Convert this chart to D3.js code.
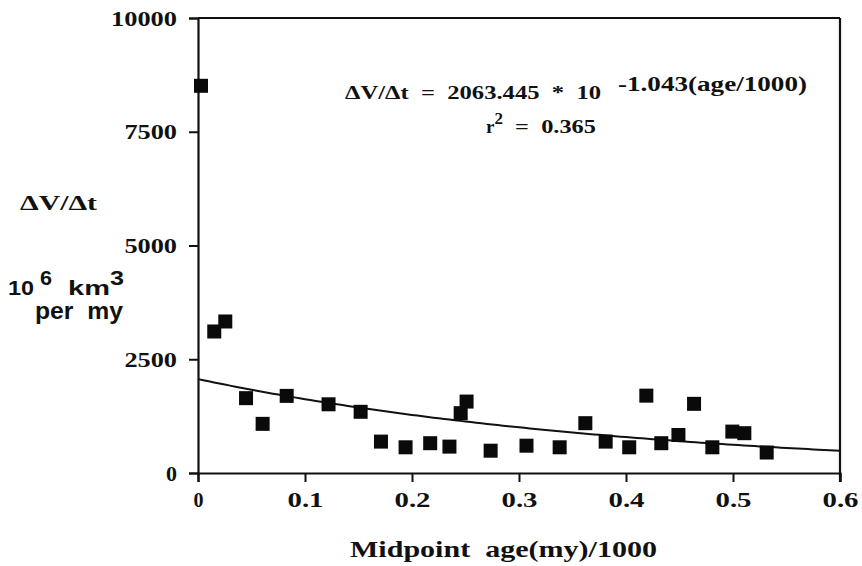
<!DOCTYPE html>
<html>
<head>
<meta charset="utf-8">
<script src="https://cdn.jsdelivr.net/npm/d3@7"></script>
<style>
  html, body { margin: 0; padding: 0; background: #fff; }
  svg { display: block; }
  .tick text { font-family: "Liberation Serif", "Times New Roman", serif; font-weight: bold; font-size: 20px; fill: #111; }
</style>
</head>
<body>
<svg id="chart" width="862" height="566"></svg>
<script>
// ---- data ----
const midpointAge = [0.0028, 0.0152, 0.0255, 0.0449, 0.0604, 0.0829, 0.122, 0.152, 0.171, 0.194,
                     0.217, 0.235, 0.2455, 0.251, 0.2735, 0.307, 0.338, 0.362, 0.381, 0.403,
                     0.419, 0.433, 0.449, 0.4636, 0.4807, 0.4994, 0.5106, 0.5315];
const dVdt = [8510, 3110, 3330, 1645, 1080, 1695, 1510, 1345, 690, 565,
              655, 580, 1315, 1570, 490, 600, 565, 1095, 690, 565,
              1700, 655, 835, 1520, 565, 910, 875, 450];
const fitA = 2063.445;
const fitK = -1.043;
const xTicks = [0, 0.1, 0.2, 0.3, 0.4, 0.5, 0.6];
const xTickLabels = ["0", "0.1", "0.2", "0.3", "0.4", "0.5", "0.6"];
const yTicks = [0, 2500, 5000, 7500, 10000];

const svg = d3.select("#chart");
const mLeft = 198, mRight = 840, mTop = 18, mBottom = 473;

const x = d3.scaleLinear().domain([0, 0.6]).range([mLeft, mRight]);
const y = d3.scaleLinear().domain([0, 10000]).range([mBottom, mTop]);

// axes
const xAxis = d3.axisBottom(x).tickValues(xTicks)
  .tickFormat((d, i) => xTickLabels[i]).tickSizeOuter(0).tickSize(9).tickPadding(11);
const yAxis = d3.axisLeft(y).tickValues(yTicks).tickFormat(d3.format("d"))
  .tickSizeOuter(0).tickSize(9).tickPadding(12);

const gx = svg.append("g").attr("transform", `translate(0,${mBottom})`).call(xAxis);
const gy = svg.append("g").attr("transform", `translate(${mLeft},0)`).call(yAxis);
[gx, gy].forEach(g => {
  g.select(".domain").attr("stroke", "#111").attr("stroke-width", 2.2);
  g.selectAll(".tick line").attr("stroke", "#111").attr("stroke-width", 2);
});
gx.selectAll(".tick text")
  .attr("textLength", function() { const n = this.textContent.length; return n === 1 ? 10 : 12 * n; })
  .attr("lengthAdjust", "spacingAndGlyphs");
gy.selectAll(".tick text").attr("dy", "0.35em")
  .attr("textLength", function() { const n = this.textContent.length; return n === 1 ? 11 : 13.4 * n - 1; })
  .attr("lengthAdjust", "spacingAndGlyphs");

// frame (top and right)
svg.append("line").attr("x1", x(0)).attr("x2", x(0.6)).attr("y1", y(10000)).attr("y2", y(10000))
  .attr("stroke", "#111").attr("stroke-width", 2.2);
svg.append("line").attr("x1", x(0.6)).attr("x2", x(0.6)).attr("y1", y(10000)).attr("y2", y(0) + 9)
  .attr("stroke", "#111").attr("stroke-width", 2.2);

// fitted curve
const fitX = d3.range(0, 0.6001, 0.005);
const line = d3.line().x(d => x(d)).y(d => y(fitA * Math.pow(10, fitK * d)));
svg.append("path").datum(fitX).attr("d", line)
  .attr("fill", "none").attr("stroke", "#111").attr("stroke-width", 2);

// points
const sz = 14;
svg.append("g").selectAll("rect").data(midpointAge).join("rect")
  .attr("x", (d, i) => x(d) - sz / 2)
  .attr("y", (d, i) => y(dVdt[i]) - sz / 2)
  .attr("width", sz).attr("height", sz).attr("fill", "#0a0a0a");

// equation text
const serif = '"Liberation Serif", "Times New Roman", serif';
const sans = '"Liberation Sans", Arial, sans-serif';
svg.append("text").attr("x", 345).attr("y", 99)
  .attr("font-family", serif).attr("font-weight", "bold").attr("font-size", 19)
  .attr("fill", "#111").attr("xml:space", "preserve")
  .attr("textLength", 256).attr("lengthAdjust", "spacingAndGlyphs")
  .text("\u0394V/\u0394t  =  2063.445  *  10");
svg.append("text").attr("x", 618).attr("y", 91)
  .attr("font-family", serif).attr("font-weight", "bold").attr("font-size", 20)
  .attr("fill", "#111")
  .attr("textLength", 189).attr("lengthAdjust", "spacingAndGlyphs")
  .text("-1.043(age/1000)");
const r2 = svg.append("text").attr("x", 486).attr("y", 133)
  .attr("font-family", serif).attr("font-weight", "bold").attr("font-size", 19)
  .attr("fill", "#111").attr("xml:space", "preserve");
r2.append("tspan").text("r");
r2.append("tspan").attr("dy", -9).attr("font-size", 17).text("2");
r2.append("tspan").attr("dy", 9).attr("textLength", 93).attr("lengthAdjust", "spacingAndGlyphs")
  .text("  =  0.365");

// y axis title
svg.append("text").attr("x", 20).attr("y", 210)
  .attr("font-family", serif).attr("font-weight", "bold").attr("font-size", 22)
  .attr("fill", "#111")
  .attr("textLength", 77).attr("lengthAdjust", "spacingAndGlyphs")
  .text("\u0394V/\u0394t");
const unit = svg.append("text").attr("x", 8).attr("y", 295)
  .attr("font-family", sans).attr("font-weight", "bold").attr("font-size", 21)
  .attr("fill", "#111").attr("xml:space", "preserve");
unit.append("tspan").attr("textLength", 26).attr("lengthAdjust", "spacingAndGlyphs").text("10");
unit.append("tspan").attr("dy", -10).attr("textLength", 18).attr("lengthAdjust", "spacingAndGlyphs").text(" 6");
unit.append("tspan").attr("dy", 10).attr("textLength", 58).attr("lengthAdjust", "spacingAndGlyphs").text("  km");
unit.append("tspan").attr("dy", -10).attr("textLength", 14).attr("lengthAdjust", "spacingAndGlyphs").text("3");
svg.append("text").attr("x", 35).attr("y", 319)
  .attr("font-family", sans).attr("font-weight", "bold").attr("font-size", 23)
  .attr("fill", "#111").attr("xml:space", "preserve")
  .attr("textLength", 88).attr("lengthAdjust", "spacingAndGlyphs")
  .text("per  my");

// x axis title
svg.append("text").attr("x", 350).attr("y", 557)
  .attr("font-family", serif).attr("font-weight", "bold").attr("font-size", 24)
  .attr("fill", "#111").attr("xml:space", "preserve")
  .attr("textLength", 307).attr("lengthAdjust", "spacingAndGlyphs")
  .text("Midpoint  age(my)/1000");
</script>
</body>
</html>
